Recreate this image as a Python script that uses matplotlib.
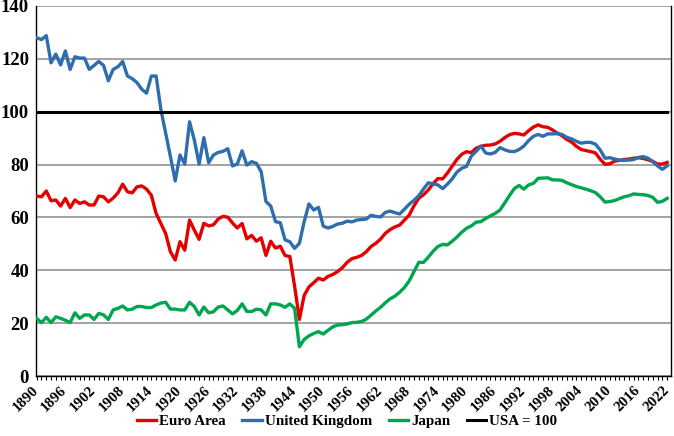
import matplotlib
matplotlib.use("Agg")
import matplotlib.pyplot as plt
import matplotlib.transforms as mtransforms
from matplotlib.ticker import MultipleLocator

years = list(range(1890, 2023))

euro_area = [
    68.1, 67.8, 70.0, 66.3, 66.6, 64.3, 67.2, 63.7, 66.6, 65.3,   # 1890-1899
    65.9, 64.7, 64.7, 68.1, 67.8, 65.9, 67.3, 69.3, 72.6, 69.7,   # 1900-1909
    69.3, 71.6, 71.9, 70.7, 68.4, 61.5, 57.7, 53.9, 47.0, 43.9,   # 1910-1919
    50.8, 47.6, 59.0, 55.2, 51.7, 57.8, 56.8, 57.2, 59.4, 60.4,   # 1920-1929
    60.1, 57.9, 56.0, 57.7, 51.9, 53.2, 51.0, 52.3, 45.6, 51.0,   # 1930-1939
    48.4, 49.1, 45.6, 45.2, 34.0, 21.4, 30.5, 33.7, 35.3, 37.0,   # 1940-1949
    36.3, 37.7, 38.4, 39.5, 41.0, 43.0, 44.4, 44.9, 45.6, 47.0,   # 1950-1959
    49.0, 50.2, 51.8, 54.0, 55.4, 56.4, 57.1, 59.0, 60.9, 64.4,   # 1960-1969
    67.3, 68.6, 70.4, 72.8, 74.7, 74.6, 76.8, 79.4, 82.0, 83.9,   # 1970-1979
    84.9, 84.5, 86.2, 86.9, 87.3, 87.4, 87.8, 88.8, 90.2, 91.3,   # 1980-1989
    91.8, 91.6, 91.2, 92.8, 94.2, 95.0, 94.3, 94.1, 93.1, 91.9,   # 1990-1999
    90.9, 89.5, 88.5, 86.9, 85.7, 85.3, 84.9, 84.4, 82.0, 80.1,   # 2000-2009
    80.3, 81.3, 81.6, 81.9, 82.1, 82.4, 82.6, 82.3, 81.8, 81.2,   # 2010-2019
    80.2, 80.2, 80.8,                                             # 2020-2022
]

united_kingdom = [
    128.0, 127.3, 128.8, 118.5, 121.8, 117.7, 123.0, 116.0, 120.8, 120.3,  # 1890-1899
    120.3, 116.0, 117.5, 119.0, 117.5, 111.7, 116.0, 117.0, 119.0, 113.5,  # 1900-1909
    112.5, 111.0, 108.5, 107.0, 113.5, 113.5, 100.8, 92.0, 83.0, 73.8,     # 1910-1919
    83.6, 80.2, 96.2, 89.3, 80.2, 90.2, 80.7, 83.6, 84.6, 85.0,            # 1920-1929
    86.0, 79.5, 80.2, 85.2, 79.8, 81.1, 80.5, 77.3, 66.0, 64.3,            # 1930-1939
    58.4, 58.0, 51.5, 50.8, 48.3, 50.2, 58.4, 65.1, 62.8, 63.8,            # 1940-1949
    56.7, 56.0, 56.6, 57.5, 57.8, 58.6, 58.3, 59.0, 59.2, 59.4,            # 1950-1959
    60.8, 60.4, 60.2, 61.9, 62.4, 61.8, 61.3, 63.1, 65.0, 66.5,            # 1960-1969
    68.2, 70.8, 73.1, 72.7, 72.3, 70.9, 72.6, 74.6, 77.2, 78.6,            # 1970-1979
    79.3, 83.2, 85.0, 87.0, 84.4, 84.0, 84.6, 86.4, 85.6, 85.0,            # 1980-1989
    84.9, 85.7, 87.0, 89.1, 90.7, 91.4, 90.7, 91.6, 91.6, 91.7,            # 1990-1999
    91.4, 90.3, 89.7, 88.8, 88.1, 88.4, 88.4, 87.7, 85.5, 82.4,            # 2000-2009
    82.6, 82.1, 81.7, 81.6, 81.7, 81.9, 82.7, 83.0, 82.4, 81.1,            # 2010-2019
    79.5, 78.2, 79.5,                                                      # 2020-2022
]

japan = [
    21.8, 20.2, 22.2, 20.2, 22.4, 21.8, 21.1, 20.2, 23.9, 21.8,   # 1890-1899
    23.1, 23.1, 21.4, 23.7, 23.1, 21.4, 25.0, 25.6, 26.5, 25.0,   # 1900-1909
    25.3, 26.3, 26.3, 25.9, 25.9, 26.9, 27.6, 27.9, 25.3, 25.3,   # 1910-1919
    25.0, 25.0, 27.9, 26.3, 23.1, 26.1, 23.9, 24.3, 26.1, 26.5,   # 1920-1929
    25.0, 23.5, 24.8, 27.3, 24.4, 24.4, 25.3, 25.0, 23.1, 27.3,   # 1930-1939
    27.3, 26.9, 26.0, 27.3, 25.6, 11.1, 13.8, 15.2, 16.1, 16.8,   # 1940-1949
    15.9, 17.3, 18.6, 19.3, 19.4, 19.7, 20.2, 20.3, 20.6, 21.5,   # 1950-1959
    23.0, 24.6, 26.0, 27.7, 29.2, 30.2, 31.7, 33.5, 36.0, 39.5,   # 1960-1969
    43.0, 43.0, 45.0, 47.2, 49.0, 49.8, 49.6, 51.0, 52.6, 54.4,   # 1970-1979
    55.9, 56.8, 58.2, 58.4, 59.6, 60.6, 61.5, 62.8, 65.5, 68.3,   # 1980-1989
    70.9, 72.1, 70.7, 72.3, 72.9, 74.8, 74.9, 75.0, 74.2, 74.2,   # 1990-1999
    74.0, 73.1, 72.4, 71.7, 71.2, 70.7, 70.1, 69.4, 67.8, 65.8,   # 2000-2009
    66.0, 66.4, 67.1, 67.8, 68.2, 68.9, 68.7, 68.6, 68.3, 67.6,   # 2010-2019
    65.7, 66.1, 67.2,                                             # 2020-2022
]

usa = [100] * len(years)

tick_years = list(range(1890, 2023, 6))
series_names = ["Euro Area", "United Kingdom", "Japan", "USA = 100"]

FONT = "Liberation Serif"

fig = plt.figure(figsize=(6.74, 4.36), dpi=100)
ax = fig.add_axes([36 / 674, 1 - 376 / 436, (670.7 - 36) / 674, 370 / 436])

ax.plot(years, euro_area, color="#E50000", lw=2.4, label=series_names[0], solid_joinstyle="round", zorder=3)
ax.plot(years, united_kingdom, color="#2E6DAE", lw=2.4, label=series_names[1], solid_joinstyle="round", zorder=4)
ax.plot(years, japan, color="#00A550", lw=2.4, label=series_names[2], solid_joinstyle="round", zorder=5)
ax.plot(years, usa, color="black", lw=2.2, label=series_names[3], zorder=6)

ax.set_xlim(1889.85, 2022.75)
ax.set_ylim(0, 140)
ax.yaxis.set_major_locator(MultipleLocator(20))
ax.grid(axis="y", color="#9C9C9C", lw=1.3)
ax.set_axisbelow(True)

ax.set_xticks(tick_years)
ax.set_xticks(years, minor=True)
ax.tick_params(axis="x", which="both", direction="out", length=3, width=0.8, color="black")
ax.tick_params(axis="y", length=0)

for s in ["left", "bottom", "right"]:
    ax.spines[s].set_color("black")
    ax.spines[s].set_linewidth(1.0)
ax.spines["top"].set_visible(False)

ax.set_yticks(range(0, 141, 20))
ax.set_yticklabels([str(v) for v in range(0, 141, 20)], fontfamily=FONT, fontweight="bold", fontsize=13.5)
ax.set_xticklabels([str(y) for y in tick_years], fontfamily=FONT, fontweight="bold", fontsize=10.8,
                   rotation=45, ha="right", rotation_mode="anchor")
ax.tick_params(axis="y", pad=5)
ax.tick_params(axis="x", pad=2)

shift = mtransforms.ScaledTranslation(-5 / 100, -1 / 100, fig.dpi_scale_trans)
for lab in ax.get_xticklabels():
    lab.set_transform(lab.get_transform() + shift)

leg = fig.legend(loc="center", bbox_to_anchor=(347 / 674, 1 - 421 / 436), ncol=4, frameon=False,
                 prop={"family": FONT, "weight": "bold", "size": 10.8},
                 handlelength=1.3, handletextpad=0.2, columnspacing=1.1, borderaxespad=0)

fig.savefig("out.png", dpi=100)
